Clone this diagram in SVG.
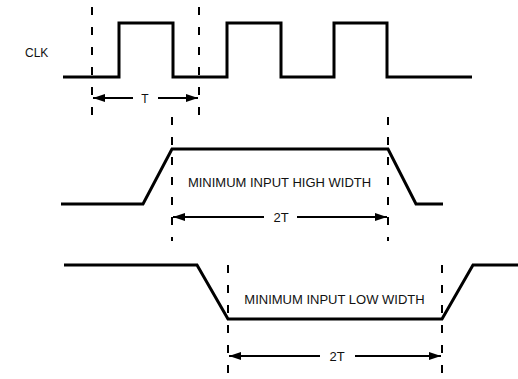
<svg xmlns="http://www.w3.org/2000/svg" width="518" height="379" viewBox="0 0 518 379">
<defs>
<style>
.wave{fill:none;stroke:#000;stroke-width:3;stroke-linejoin:miter;stroke-linecap:butt}
.dash{fill:none;stroke:#000;stroke-width:2;stroke-dasharray:8 12}
.dim{fill:none;stroke:#000;stroke-width:2}
.lbl{font-family:"Liberation Sans",Arial,sans-serif;font-size:13px;fill:#111}
.small{font-size:12px}
</style>
<marker id="ah" viewBox="0 0 12 8" refX="12" refY="4" markerWidth="12" markerHeight="8" markerUnits="userSpaceOnUse" orient="auto">
<path d="M0,0 L12,4 L0,8 Z" fill="#000"/>
</marker>
</defs>
<rect width="518" height="379" fill="#fff"/>
<g id="clk">
<text class="lbl small" x="25" y="57">CLK</text>
<path class="wave" d="M63,77 H119 V23 H173 V77 H227 V23 H281 V77 H334 V23 H387 V77 H472"/>
</g>
<g id="high-input">
<path class="wave" d="M61,204 H143 L172,149 H388 L416,204 H443"/>
<text class="lbl" x="279.5" y="186.5" text-anchor="middle">MINIMUM INPUT HIGH WIDTH</text>
</g>
<g id="low-input">
<path class="wave" d="M64,265 H197 L228,319 H442 L473,265 H518"/>
<text class="lbl" x="334.5" y="304" text-anchor="middle">MINIMUM INPUT LOW WIDTH</text>
</g>
<g id="connectors">
<line class="dash" x1="92" y1="7" x2="92" y2="119"/>
<line class="dash" x1="199" y1="7" x2="199" y2="119"/>
<line class="dash" x1="172" y1="117" x2="172" y2="241"/>
<line class="dash" x1="388" y1="117" x2="388" y2="241"/>
<line class="dash" x1="228" y1="265" x2="228" y2="379"/>
<line class="dash" x1="442" y1="265" x2="442" y2="379"/>
<line class="dim" x1="133" y1="98" x2="93" y2="98" marker-end="url(#ah)"/>
<line class="dim" x1="158" y1="98" x2="198" y2="98" marker-end="url(#ah)"/>
<text class="lbl small" x="145" y="102.5" text-anchor="middle">T</text>
<line class="dim" x1="264" y1="217" x2="173" y2="217" marker-end="url(#ah)"/>
<line class="dim" x1="297" y1="217" x2="387" y2="217" marker-end="url(#ah)"/>
<text class="lbl" x="281" y="221.5" text-anchor="middle">2T</text>
<line class="dim" x1="320" y1="356" x2="229" y2="356" marker-end="url(#ah)"/>
<line class="dim" x1="355" y1="356" x2="441" y2="356" marker-end="url(#ah)"/>
<text class="lbl" x="337" y="360.5" text-anchor="middle">2T</text>
</g>
</svg>
